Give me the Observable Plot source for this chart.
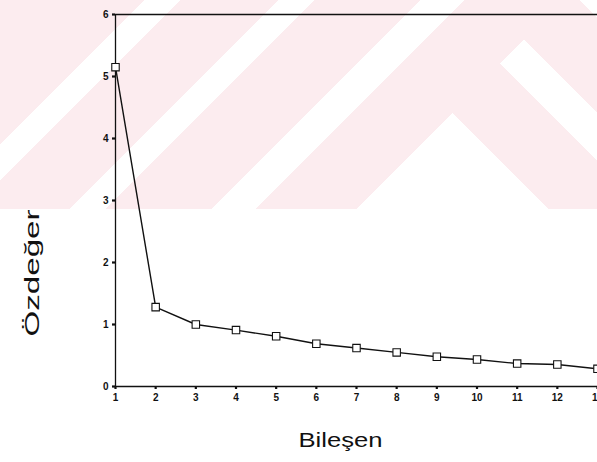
<!DOCTYPE html>
<html><head><meta charset="utf-8">
<script src="https://cdn.jsdelivr.net/npm/d3@7"></script>
<script src="https://cdn.jsdelivr.net/npm/@observablehq/plot@0.6"></script>
<style>
body{margin:0;background:#fff;}
#chart{position:relative;width:597px;height:462px;overflow:hidden;}
</style></head><body><div id="chart"></div>
<script>
// Scree plot data
const components = [1,2,3,4,5,6,7,8,9,10,11,12,13];
const eigenvalues = [5.15,1.28,1.00,0.91,0.81,0.69,0.62,0.55,0.48,0.435,0.37,0.355,0.285];
const xTicks = [1,2,3,4,5,6,7,8,9,10,11,12,13];
const yTicks = [0,1,2,3,4,5,6];
const xLabel = "Bileşen";
const yLabel = "Özdeğer";

const data = components.map((c, i) => ({component: c, eigen: eigenvalues[i]}));

// faint watermark background (decorative)
const PK = "#fcecef", W = "#ffffff", S = Math.SQRT2;
const px = v => (v / S).toFixed(1) + "px";
const band = (a, b) => `transparent ${px(a)}, ${W} ${px(a)}, ${W} ${px(b)}, transparent ${px(b)}`;
const box = "0 0 / 597px 209px no-repeat";
const bg = [
  `linear-gradient(135deg, ${PK} 0px, ${PK} ${px(563-540)}, transparent ${px(563-540)}) 500px 40px / 97px 169px no-repeat`,
  `linear-gradient(45deg, transparent ${px(437-291)}, ${W} ${px(437-291)}, ${W} ${px(484-291)}, transparent ${px(484-291)}) 500px 40px / 97px 169px no-repeat`,
  `linear-gradient(135deg, ${band(145,180)}, ${band(278,315)}, ${band(420,464)}) ${box}`,
  `linear-gradient(45deg, transparent ${px(580+209)}, ${W} ${px(580+209)}) ${box}`,
  `linear-gradient(45deg, transparent ${px(339+209)}, ${PK} ${px(339+209)}) ${box}`,
  `linear-gradient(135deg, transparent ${px(566)}, ${W} ${px(566)}) ${box}`,
  `linear-gradient(${PK}, ${PK}) ${box}`
];
document.getElementById("chart").style.background = bg.join(", ");

const ink = "#111";
const plot = Plot.plot({
  width: 597,
  height: 462,
  marginTop: 14,
  marginRight: 0,
  marginBottom: 76,
  marginLeft: 115,
  style: {background: "transparent", fontFamily: "'Liberation Sans', Arial, sans-serif", fontSize: "10px", fontWeight: "bold", color: ink, overflow: "visible"},
  x: {domain: [1, 13]},
  y: {domain: [0, 6]},
  marks: [
    Plot.ruleY([6], {stroke: ink, strokeWidth: 1.5}),
    Plot.ruleY([0], {stroke: ink, strokeWidth: 1.5}),
    Plot.ruleX([1], {stroke: ink, strokeWidth: 1.3}),
    Plot.axisX({ticks: xTicks, tickSize: 3, tickPadding: 4, strokeWidth: 2.2, label: null, tickFormat: d => String(d)}),
    Plot.axisY({ticks: yTicks, tickSize: 3, tickPadding: 4, strokeWidth: 2.2, label: null, tickFormat: d => String(d)}),
    Plot.line(data, {x: "component", y: "eigen", stroke: ink, strokeWidth: 1.4}),
    Plot.dot(data, {x: "component", y: "eigen", symbol: "square", r: 4.2, stroke: ink, fill: "white", strokeWidth: 1.1}),
    Plot.text([xLabel], {text: d => d, frameAnchor: "bottom", dy: 60, dx: -16, fontSize: 21, fontWeight: "normal", fill: ink})
  ]
});

d3.select(plot).selectAll("text")
  .filter(function() { return this.textContent === xLabel; })
  .attr("textLength", 84).attr("lengthAdjust", "spacingAndGlyphs");

// rotated y-axis title
d3.select(plot).append("text")
  .attr("transform", "translate(32,273) rotate(-90)")
  .attr("text-anchor", "middle")
  .attr("dy", "0.35em")
  .attr("font-size", 21)
  .attr("font-weight", "normal")
  .attr("fill", ink)
  .attr("textLength", 127)
  .attr("lengthAdjust", "spacingAndGlyphs")
  .text(yLabel);

document.getElementById("chart").appendChild(plot);
</script></body></html>
